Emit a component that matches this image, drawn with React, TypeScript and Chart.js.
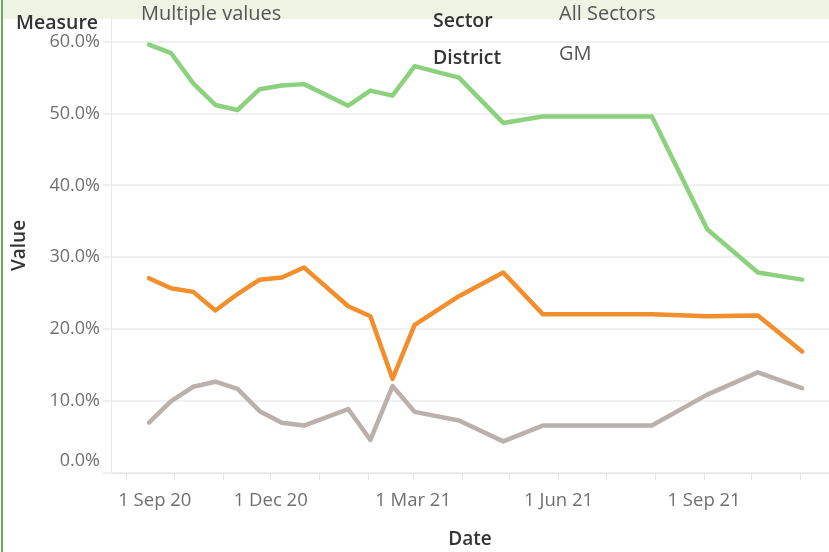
import React, { useEffect, useRef } from "react";
import { Chart, registerables } from "chart.js";

Chart.register(...registerables);

// ---- data ----
const pointDates = [
  "2020-09-15", "2020-09-29", "2020-10-13", "2020-10-27", "2020-11-10",
  "2020-11-24", "2020-12-08", "2020-12-22", "2021-01-19", "2021-02-02",
  "2021-02-16", "2021-03-02", "2021-03-30", "2021-04-27", "2021-05-22",
  "2021-07-30", "2021-09-03", "2021-10-05", "2021-11-02",
];
const greenValues = [59.6, 58.4, 54.2, 51.2, 50.5, 53.4, 53.9, 54.1, 51.1, 53.2, 52.5, 56.6, 55.0, 48.7, 49.6, 49.6, 33.9, 27.9, 26.9];
const orangeValues = [27.1, 25.7, 25.2, 22.6, 24.9, 26.9, 27.2, 28.6, 23.2, 21.8, 13.1, 20.6, 24.6, 27.9, 22.1, 22.1, 21.8, 21.9, 16.9];
const greyValues = [7.0, 10.0, 12.0, 12.7, 11.7, 8.6, 7.0, 6.6, 8.9, 4.6, 12.1, 8.5, 7.3, 4.4, 6.6, 6.6, 10.9, 14.0, 11.8];

const monthTicks = [
  "2020-09-01", "2020-10-01", "2020-11-01", "2020-12-01", "2021-01-01",
  "2021-02-01", "2021-03-01", "2021-04-01", "2021-05-01", "2021-06-01",
  "2021-07-01", "2021-08-01", "2021-09-01", "2021-10-01", "2021-11-01",
];
const monthTickLabels = [
  "1 Sep 20", "", "", "1 Dec 20", "", "", "1 Mar 21", "", "", "1 Jun 21",
  "", "", "1 Sep 21", "", "",
];
const yTickValues = [0, 10, 20, 30, 40, 50, 60];
const xMinDate = "2020-08-22";
const xMaxDate = "2021-11-19";

const FONT = "'Open Sans', 'Noto Sans', sans-serif";
const ORIGIN = Date.UTC(2020, 8, 1);
function toDay(s: string): number {
  const [y, m, d] = s.split("-").map(Number);
  return (Date.UTC(y, m - 1, d) - ORIGIN) / 86400000;
}

const nudgeEdgeLabels = {
  id: "nudgeEdgeLabels",
  beforeDraw(chart: any) {
    const sx: any = chart.scales.x;
    if (sx && sx.getLabelItems) {
      const items = sx.getLabelItems();
      const it = items && items.find((i: any) => i.label === monthTickLabels[0]);
      if (it && !it._shifted) {
        it.options.translation[0] += 28;
        it._shifted = true;
      }
    }
    const sy: any = chart.scales.y;
    if (sy && sy.getLabelItems) {
      const items = sy.getLabelItems();
      const it = items && items.find((i: any) => i.label === "0.0%");
      if (it && !it._shifted) {
        it.options.translation[1] -= 12;
        it._shifted = true;
      }
    }
  },
};

export default function App() {
  const ref = useRef<HTMLCanvasElement | null>(null);

  useEffect(() => {
    if (!ref.current) return;
    const xs = pointDates.map(toDay);
    const mk = (vals: number[]) => vals.map((v, i) => ({ x: xs[i], y: v }));
    const line = (label: string, vals: number[], color: string) => ({
      label,
      data: mk(vals),
      borderColor: color,
      backgroundColor: color,
      borderWidth: 4.5,
      pointRadius: 0,
      tension: 0,
      borderCapStyle: "round" as const,
      borderJoinStyle: "round" as const,
    });
    const chart = new Chart(ref.current, {
      type: "line",
      data: {
        datasets: [
          line("Share A", greyValues, "#bab0ac"),
          line("Share B", orangeValues, "#f28e2b"),
          line("Share C", greenValues, "#8cd17d"),
        ],
      },
      plugins: [nudgeEdgeLabels],
      options: {
        animation: false,
        responsive: false,
        devicePixelRatio: 1,
        layout: { padding: { top: 18, left: 0, right: 0, bottom: 0 } },
        plugins: { legend: { display: false }, tooltip: { enabled: false } },
        scales: {
          x: {
            type: "linear",
            min: toDay(xMinDate),
            max: toDay(xMaxDate),
            afterBuildTicks: (s: any) => {
              s.ticks = monthTicks.map((d) => ({ value: toDay(d) }));
            },
            afterFit: (s: any) => {
              s.height = 79;
            },
            ticks: {
              autoSkip: false,
              maxRotation: 0,
              callback: (_v: any, i: number) => monthTickLabels[i],
              color: "#707070",
              font: { family: FONT, size: 18.5 },
              padding: 10,
            },
            grid: {
              drawOnChartArea: false,
              drawTicks: true,
              tickLength: 7,
              color: "#e3e3e3",
              lineWidth: 1,
            },
            border: { display: true, color: "#e3e3e3", width: 1 },
            title: {
              display: true,
              text: "Date",
              color: "#333333",
              font: { family: FONT, size: 19, weight: "600" },
              padding: { top: 4, bottom: 1 },
            },
          },
          y: {
            type: "linear",
            min: 0,
            max: 63.3,
            afterBuildTicks: (s: any) => {
              s.ticks = yTickValues.map((v) => ({ value: v }));
            },
            afterFit: (s: any) => {
              s.width = 111;
            },
            ticks: {
              callback: (v: any) => Number(v).toFixed(1) + "%",
              color: "#707070",
              font: { family: FONT, size: 18 },
              padding: 3,
            },
            grid: {
              color: "#f0f0f0",
              lineWidth: 2,
              drawTicks: true,
              tickLength: 8,
            },
            border: { display: true, color: "#e8e8e8", width: 1 },
            title: {
              display: true,
              text: "Value",
              color: "#333333",
              font: { family: FONT, size: 19, weight: "600" },
              padding: { top: 8, bottom: 0 },
            },
          },
        },
      },
    });
    return () => chart.destroy();
  }, []);

  const txt = (s: string, left: number, top: number, bold: boolean) => (
    <div
      style={{
        position: "absolute",
        left,
        top,
        fontFamily: FONT,
        fontSize: bold ? 19.5 : 20,
        lineHeight: "24px",
        fontWeight: bold ? 600 : 400,
        color: bold ? "#333333" : "#555555",
        whiteSpace: "nowrap",
      }}
    >
      {s}
    </div>
  );

  return (
    <div
      style={{
        position: "fixed",
        left: 0,
        top: 0,
        width: 829,
        height: 552,
        background: "#ffffff",
        overflow: "hidden",
      }}
    >
      <div style={{ position: "absolute", left: 3, top: 0, width: 826, height: 19, background: "#eef3e3" }} />
      <canvas ref={ref} width={829} height={552} style={{ position: "absolute", left: 0, top: 0 }} />
      <div style={{ position: "absolute", left: 1, top: 0, width: 2, height: 552, background: "#6aab5a" }} />
      {txt("Measure", 16, 10, true)}
      {txt("Multiple values", 141, 1, false)}
      {txt("Sector", 433, 8, true)}
      {txt("All Sectors", 559, 1, false)}
      {txt("District", 433, 45, true)}
      {txt("GM", 559, 41, false)}
    </div>
  );
}
